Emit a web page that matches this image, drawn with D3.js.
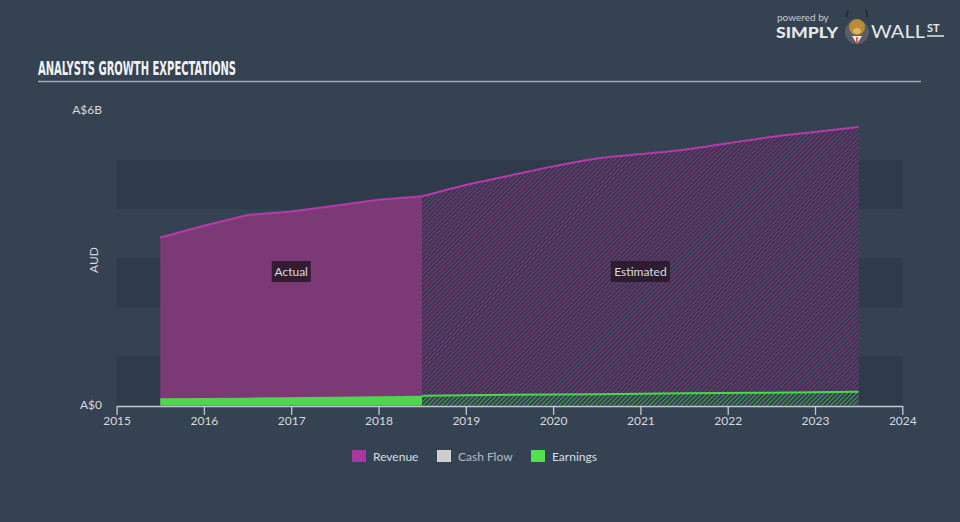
<!DOCTYPE html>
<html><head><meta charset="utf-8">
<script src="https://cdn.jsdelivr.net/npm/d3@7"></script>
<style>html,body{margin:0;padding:0;background:#344252;}svg{display:block}</style>
</head><body>
<svg id="chart" width="960" height="522"></svg>
<script>
// ---- data (A$ billions, x = fiscal date as decimal year) ----
const xTickYears = [2015, 2016, 2017, 2018, 2019, 2020, 2021, 2022, 2023, 2024];
const yTickLabels = ["A$0", "A$6B"];
const yTickValues = [0, 6];
const bandStarts = [0, 2, 4];

const revenueActualDates = [2015.5, 2016.0, 2016.5, 2017.0, 2017.5, 2018.0, 2018.5];
const revenueActual      = [3.42, 3.66, 3.88, 3.95, 4.07, 4.19, 4.26];
const revenueEstDates    = [2018.5, 2019.0, 2019.5, 2020.0, 2020.5, 2021.0, 2021.5, 2022.0, 2022.5, 2023.0, 2023.5];
const revenueEst         = [4.26, 4.49, 4.68, 4.87, 5.03, 5.12, 5.21, 5.34, 5.47, 5.57, 5.67];

const earningsActualDates = [2015.5, 2016.5, 2017.5, 2018.5];
const earningsActual      = [0.15, 0.16, 0.18, 0.20];
const earningsEstDates    = [2018.5, 2019.5, 2020.5, 2021.5, 2022.5, 2023.5];
const earningsEst         = [0.20, 0.22, 0.23, 0.25, 0.26, 0.28];

const legendNames  = ["Revenue", "Cash Flow", "Earnings"];
const legendColors = ["#a8399f", "#cfcfcf", "#50e050"];

// ---- layout ----
const svg = d3.select("#chart");
const W = 960, H = 522;
const x = d3.scaleLinear().domain([2015, 2024]).range([116.6, 902.3]);
const y = d3.scaleLinear().domain([0, 6]).range([405.5, 110.9]);

svg.append("rect").attr("width", W).attr("height", H).attr("fill", "#344252");

const defs = svg.append("defs");
function hatch(id, color, op) {
  const p = defs.append("pattern").attr("id", id).attr("patternUnits", "userSpaceOnUse")
    .attr("width", 3.2).attr("height", 3.2).attr("patternTransform", "rotate(45)");
  p.append("line").attr("x1", 0).attr("y1", 0).attr("x2", 0).attr("y2", 3.2)
    .attr("stroke", color).attr("stroke-width", 1.4).attr("stroke-opacity", op);
}
hatch("hatchRev", "#a83a9f", 0.75);
hatch("hatchEarn", "#50d850", 0.85);

// bands
svg.append("g").selectAll("rect").data(bandStarts).join("rect")
  .attr("x", x(2015)).attr("width", x(2024) - x(2015))
  .attr("y", d => y(d + 1)).attr("height", d => y(d) - y(d + 1))
  .attr("fill", "#2f3b4a");

// title
svg.append("text").attr("x", 38).attr("y", 75).text("ANALYSTS GROWTH EXPECTATIONS")
  .attr("font-family", "'Liberation Sans Narrow','DejaVu Sans Condensed',sans-serif")
  .attr("font-weight", "bold").attr("font-size", 19).attr("fill", "#f2f2f2")
  .attr("textLength", 198).attr("lengthAdjust", "spacingAndGlyphs");
svg.append("line").attr("x1", 38).attr("x2", 921).attr("y1", 81.5).attr("y2", 81.5)
  .attr("stroke", "#a3abb5").attr("stroke-width", 1.5);

// logo
const logo = svg.append("g");
logo.append("text").attr("x", 777).attr("y", 21).text("powered by")
  .attr("font-family", "Lato,sans-serif").attr("font-size", 10).attr("fill", "#c8ccd0");
logo.append("text").attr("x", 776).attr("y", 38).text("SIMPLY")
  .attr("font-family", "Lato,sans-serif").attr("font-weight", "900").attr("font-size", 15)
  .attr("fill", "#e6e8ea").attr("textLength", 62).attr("lengthAdjust", "spacingAndGlyphs");
logo.append("circle").attr("cx", 857).attr("cy", 32).attr("r", 12).attr("fill", "#5a5e63");
logo.append("ellipse").attr("cx", 857).attr("cy", 27).attr("rx", 8).attr("ry", 8).attr("fill", "#b98a3a");
logo.append("ellipse").attr("cx", 857).attr("cy", 31).attr("rx", 4).attr("ry", 3).attr("fill", "#e3b560");
logo.append("path").attr("d", "M847,17 Q846,12 849,10 M867,17 Q868,12 865,10").attr("stroke", "#2b2b2b")
  .attr("stroke-width", 2).attr("fill", "none");
logo.append("path").attr("d", "M852,36 L857,44 L862,36 Z").attr("fill", "#f0f0f0");
logo.append("line").attr("x1", 857).attr("x2", 857).attr("y1", 37).attr("y2", 44).attr("stroke", "#d33").attr("stroke-width", 1.5);
logo.append("text").attr("x", 871).attr("y", 38).text("WALL")
  .attr("font-family", "Lato,sans-serif").attr("font-size", 17).attr("fill", "#e6e8ea")
  .attr("textLength", 54).attr("lengthAdjust", "spacingAndGlyphs");
logo.append("text").attr("x", 927).attr("y", 32).text("ST")
  .attr("font-family", "Lato,sans-serif").attr("font-weight", "bold").attr("font-size", 11).attr("fill", "#e6e8ea");
logo.append("line").attr("x1", 927).attr("x2", 944).attr("y1", 36).attr("y2", 36).attr("stroke", "#e6e8ea").attr("stroke-width", 1.5);

// areas
const revActualData = revenueActualDates.map((d, i) => [d, revenueActual[i]]);
const revEstData = revenueEstDates.map((d, i) => [d, revenueEst[i]]);
const earnActualData = earningsActualDates.map((d, i) => [d, earningsActual[i]]);
const earnEstData = earningsEstDates.map((d, i) => [d, earningsEst[i]]);

const areaLin = d3.area().x(d => x(d[0])).y0(y(0)).y1(d => y(d[1]));
const areaMono = d3.area().x(d => x(d[0])).y0(y(0)).y1(d => y(d[1])).curve(d3.curveMonotoneX);
const lineLin = d3.line().x(d => x(d[0])).y(d => y(d[1]));
const lineMono = d3.line().x(d => x(d[0])).y(d => y(d[1])).curve(d3.curveMonotoneX);

// revenue
svg.append("path").attr("d", areaLin(revActualData)).attr("fill", "#7b3a76");
svg.append("path").attr("d", areaMono(revEstData)).attr("fill", "#3c3650");
svg.append("path").attr("d", areaMono(revEstData)).attr("fill", "url(#hatchRev)");
svg.append("path").attr("d", lineLin(revActualData)).attr("fill", "none").attr("stroke", "#b53baa").attr("stroke-width", 2);
svg.append("path").attr("d", lineMono(revEstData)).attr("fill", "none").attr("stroke", "#b53baa").attr("stroke-width", 2);

// earnings
svg.append("path").attr("d", areaLin(earnActualData)).attr("fill", "#4fd64f");
svg.append("path").attr("d", areaLin(earnEstData)).attr("fill", "#344252");
svg.append("path").attr("d", areaLin(earnEstData)).attr("fill", "url(#hatchEarn)");
svg.append("path").attr("d", lineLin(earnEstData)).attr("fill", "none").attr("stroke", "#4fd64f").attr("stroke-width", 2);

// labels Actual / Estimated
function tag(cx, label, w) {
  svg.append("rect").attr("x", cx - w / 2).attr("y", 261).attr("width", w).attr("height", 21)
    .attr("fill", "#2a1a2b").attr("fill-opacity", 0.9);
  svg.append("text").attr("x", cx).attr("y", 275.5).attr("text-anchor", "middle").text(label)
    .attr("font-family", "Lato,sans-serif").attr("font-size", 12).attr("fill", "#dcdcdc");
}
tag((x(revenueActualDates[0]) + x(revenueActualDates[revenueActualDates.length - 1])) / 2, "Actual", 39);
tag((x(revenueEstDates[0]) + x(revenueEstDates[revenueEstDates.length - 1])) / 2, "Estimated", 59);

// x axis
const xAxis = d3.axisBottom(x).tickValues(xTickYears).tickFormat(d3.format("d")).tickSize(9).tickSizeOuter(0);
const gx = svg.append("g").attr("transform", `translate(0,${y(0) + 0.5})`).call(xAxis);
gx.select(".domain").attr("stroke", "#c3c9d0").attr("stroke-width", 1.3);
gx.selectAll(".tick line").attr("stroke", "#c3c9d0").attr("stroke-width", 1.3);
gx.selectAll(".tick text").attr("fill", "#d7dade").attr("font-family", "Lato,sans-serif")
  .attr("font-size", 12).attr("dy", "0").attr("y", 19);

// y labels
svg.append("g").selectAll("text").data(yTickValues).join("text")
  .attr("x", 102).attr("y", d => y(d) + 3).attr("text-anchor", "end")
  .text((d, i) => yTickLabels[i])
  .attr("font-family", "Lato,sans-serif").attr("font-size", 12).attr("fill", "#d7dade");
svg.append("text").attr("transform", "translate(98,260) rotate(-90)").attr("text-anchor", "middle")
  .text("AUD").attr("font-family", "Lato,sans-serif").attr("font-size", 12).attr("fill", "#d7dade");

// legend
const legX = [352, 437, 531];
const leg = svg.append("g").selectAll("g").data(legendNames).join("g")
  .attr("transform", (d, i) => `translate(${legX[i]},450)`);
leg.append("rect").attr("width", 14).attr("height", 12).attr("fill", (d, i) => legendColors[i]);
leg.append("text").attr("x", 21).attr("y", 10.5).text(d => d)
  .attr("font-family", "Lato,sans-serif").attr("font-size", 12)
  .attr("fill", (d, i) => i === 1 ? "#b8bcc2" : "#dcdfe2");
</script>
</body></html>
